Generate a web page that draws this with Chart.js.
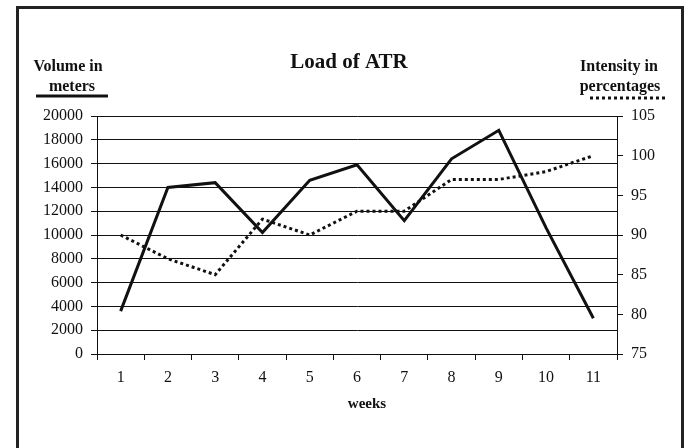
<!DOCTYPE html>
<html>
<head>
<meta charset="utf-8">
<script src="https://cdn.jsdelivr.net/npm/chart.js@4"></script>
<style>
  html, body { margin: 0; padding: 0; background: #fff; }
  #wrap { width: 686px; height: 448px; }
</style>
</head>
<body>
<div id="wrap"><canvas id="atr" width="686" height="448"></canvas></div>
<script>
// weeks on the x axis
var weeks = ["1", "2", "3", "4", "5", "6", "7", "8", "9", "10", "11"];
// volume in meters (left axis)
var volume = [3600, 14000, 14400, 10200, 14600, 15900, 11200, 16400, 18800, 10600, 3000];
// intensity in percentages (right axis)
var intensity = [90, 87, 85, 92, 90, 93, 93, 97, 97, 98, 100];

var serif = "'Liberation Serif', 'Times New Roman', serif";

// frame, title, axis captions with their line samples
var decor = {
  id: 'decor',
  beforeDraw(chart) {
    const c = chart.ctx;
    c.save();
    c.fillStyle = '#fff';
    c.fillRect(0, 0, chart.width, chart.height);
    c.restore();
  },
  afterDraw(chart) {
    const c = chart.ctx;
    c.save();
    c.strokeStyle = '#222';
    c.lineWidth = 3;
    c.beginPath();
    c.moveTo(17.5, 460);
    c.lineTo(17.5, 7.5);
    c.lineTo(682.5, 7.5);
    c.lineTo(682.5, 460);
    c.stroke();

    c.fillStyle = '#111';
    c.textAlign = 'center';
    c.textBaseline = 'middle';
    c.font = 'bold 21px ' + serif;
    c.fillText('Load of ATR', 349, 63);

    c.font = 'bold 16px ' + serif;
    c.fillText('Volume in', 68, 67);
    c.fillText('meters', 72, 87);
    c.fillText('Intensity in', 619, 67);
    c.fillText('percentages', 620, 87);
    c.font = 'bold 15px ' + serif;
    c.fillText('weeks', 367, 404);

    c.strokeStyle = '#111';
    c.lineWidth = 3;
    c.beginPath();
    c.moveTo(36, 96);
    c.lineTo(108, 96);
    c.stroke();
    c.setLineDash([3, 3]);
    c.beginPath();
    c.moveTo(590, 98);
    c.lineTo(668, 98);
    c.stroke();
    c.restore();
  }
};

new Chart(document.getElementById('atr'), {
  type: 'line',
  data: {
    labels: weeks,
    datasets: [{
      label: 'Volume in meters',
      data: volume,
      yAxisID: 'y',
      borderColor: '#111',
      borderWidth: 3,
      pointRadius: 0,
      tension: 0
    }, {
      label: 'Intensity in percentages',
      data: intensity,
      yAxisID: 'y1',
      borderColor: '#111',
      borderWidth: 3,
      borderDash: [3, 3],
      pointRadius: 0,
      tension: 0
    }]
  },
  options: {
    responsive: false,
    animation: false,
    layout: { padding: { left: 20, right: 0, top: 116, bottom: 0 } },
    plugins: {
      legend: { display: false },
      title: { display: false },
      tooltip: { enabled: false }
    },
    scales: {
      x: {
        offset: true,
        grid: { offset: true, drawOnChartArea: false, tickLength: 6, color: '#111' },
        border: { color: '#111', width: 1 },
        ticks: { color: '#111', padding: 8, font: { family: serif, size: 16 } },
        afterFit(s) { s.height = 94; }
      },
      y: {
        position: 'left',
        min: 0,
        max: 20000,
        ticks: {
          stepSize: 2000, color: '#111', padding: 8, font: { family: serif, size: 16 },
          callback: v => String(v)
        },
        grid: { color: '#111', tickLength: 6 },
        border: { color: '#111', width: 1 },
        afterFit(s) { s.width = 77; }
      },
      y1: {
        position: 'right',
        min: 75,
        max: 105,
        ticks: {
          stepSize: 5, color: '#111', padding: 8, font: { family: serif, size: 16 },
          callback: v => String(v)
        },
        grid: { drawOnChartArea: false, color: '#111', tickLength: 6 },
        border: { color: '#111', width: 1 },
        afterFit(s) { s.width = 69; }
      }
    }
  },
  plugins: [decor]
});
</script>
</body>
</html>
